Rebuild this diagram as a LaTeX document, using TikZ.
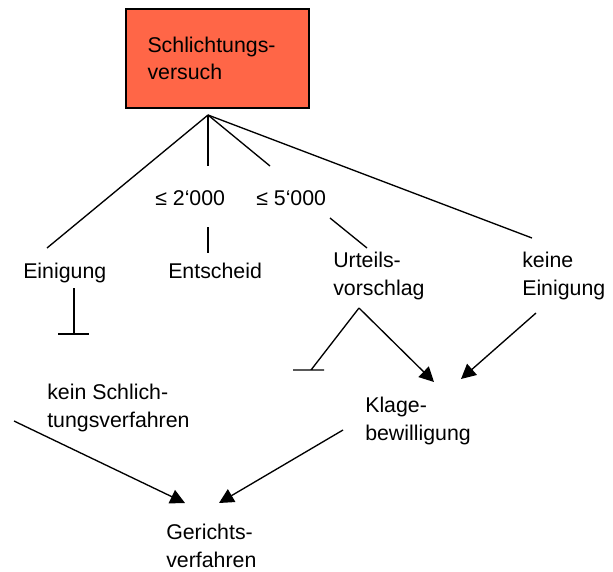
\documentclass[tikz,border=0pt]{standalone}
\usepackage{fontspec}
\setmainfont{Liberation Sans}
\usepackage{tikz}
\usetikzlibrary{arrows.meta}
\definecolor{box_red}{HTML}{FF6647}

\begin{document}
\begin{tikzpicture}[x=0.75pt,y=-0.75pt,>={Triangle[length=11pt,width=11pt]},
  every node/.style={font=\fontsize{16}{20.6}\selectfont,inner sep=0pt,align=left}]
              \useasboundingbox (0,0) rectangle (613,571);
              \node[draw,fill=box_red,line width=1.2pt,minimum width=137pt,minimum height=74pt,text width=105pt,inner xsep=16pt] (S) at (217.5,58.5) {Schlichtungs-\\versuch};
              \coordinate (H) at (208,115);
              \coordinate (E1) at (47,248);
              \coordinate (D1) at (208,166);
              \coordinate (D2) at (270,166);
              \coordinate (K1) at (532,238);
              \draw[line width=1pt] (H) -- (E1);
              \draw[line width=1pt] (H) -- (D1);
              \draw[line width=1pt] (H) -- (D2);
              \draw[line width=1pt] (H) -- (K1);
              \node[anchor=base west] (L2) at (155,205) {≤ 2‘000};
              \node[anchor=base west] (L5) at (256,205) {≤ 5‘000};
              \coordinate (L2b) at (208,227);
              \coordinate (L2c) at (208,253);
              \coordinate (L5b) at (330,218);
              \coordinate (L5c) at (367,248);
              \draw[line width=1pt] (L2b) -- (L2c);
              \draw[line width=1pt] (L5b) -- (L5c);
              \node[anchor=base west] (EI) at (23,278) {Einigung};
              \node[anchor=base west] (ES) at (168,278) {Entscheid};
              \node[anchor=base west] (UV) at (333,295) {Urteils-\\vorschlag};
              \node[anchor=base west] (KE) at (522,295) {keine\\Einigung};
              % Einigung -> stop
              \coordinate (EIa) at (74,288);
              \coordinate (EIb) at (74,334);
              \draw[line width=1pt] (EIa) -- (EIb) ++(-16,0) -- ++(31,0);
              % Urteilsvorschlag
              \coordinate (UVa) at (359,308);
              \coordinate (UVb) at (311,370);
              \coordinate (KBa) at (434,382);
              \draw[line width=1pt] (UVa) -- (UVb) ++(-18,0) -- ++(31,0);
              \draw[->,line width=1pt] (UVa) -- (KBa);
              \coordinate (KEa) at (536,313);
              \coordinate (KBb) at (461,379);
              \draw[->,line width=1pt] (KEa) -- (KBb);
              \node[anchor=base west] (KS) at (47,427) {kein Schlich-\\tungsverfahren};
              \node[anchor=base west] (KB) at (365,440) {Klage-\\bewilligung};
              \node[anchor=base west] (GV) at (166,567) {Gerichts-\\verfahren};
              \coordinate (KSa) at (14,421);
              \coordinate (GVa) at (185,503);
              \coordinate (KBc) at (343,430);
              \coordinate (GVb) at (219,503);
              \draw[->,line width=1pt] (KSa) -- (GVa);
              \draw[->,line width=1pt] (KBc) -- (GVb);
          \end{tikzpicture}
\end{document}
